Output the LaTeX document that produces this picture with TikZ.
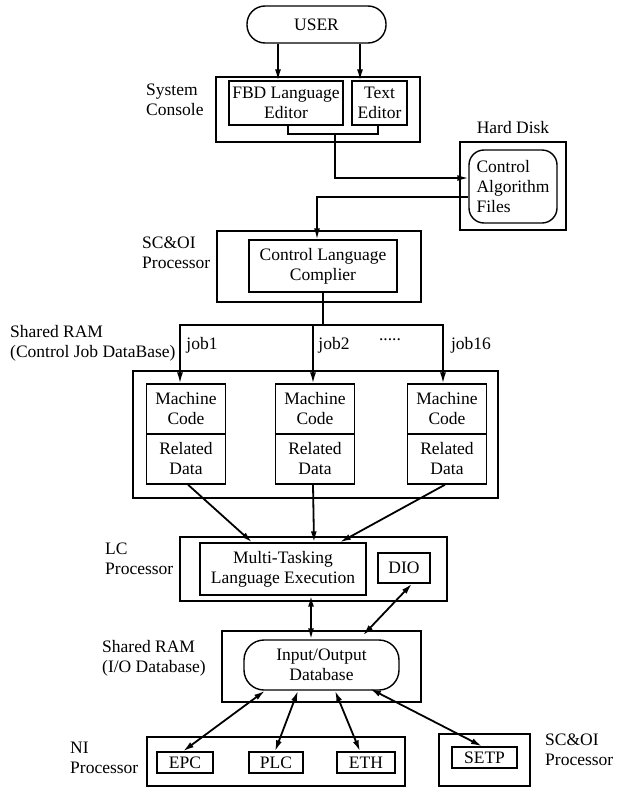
\documentclass[tikz,border=0pt]{standalone}
\usepackage{fontspec}
\setmainfont{Liberation Serif}
\usetikzlibrary{arrows.meta, positioning, calc}

\begin{document}
\begin{tikzpicture}[x=1pt, y=-1pt,
    every node/.style={font=\fontsize{17.5}{20}\selectfont},
    box/.style={draw, line width=1.4pt, inner sep=0pt, align=center},
    lbl/.style={anchor=west, align=left, inner sep=0pt},
    arr/.style={-{Latex[length=11pt,width=6pt]}, line width=1.5pt},
    darr/.style={{Latex[length=11pt,width=6pt]}-{Latex[length=11pt,width=6pt]}, line width=1.8pt}]
    \useasboundingbox (0,0) rectangle (624,790);

    % User and system console
    \node[box, rounded corners=18pt, minimum width=139pt, minimum height=37pt] (user) at (316.5,24.5) {USER};
    \node[box, minimum width=204pt, minimum height=65pt] (sysc) at (318,109.5) {};
    \node[box, minimum width=114pt, minimum height=44pt] (fbd) at (286,103) {FBD Language\\Editor};
    \node[box, minimum width=55pt, minimum height=44pt] (txt) at (379.5,103) {Text\\Editor};
    \node[lbl] (lsys) at (146,99.5) {System\\Console};

    % Hard disk
    \node[box, minimum width=106pt, minimum height=88pt] (hd) at (513,186) {};
    \node[box, align=left, rounded corners=15pt, minimum width=88pt, minimum height=73pt] (files) at (513,186.5) {Control\\Algorithm\\Files};
    \node (lhd) at (513,128) {Hard Disk};

    % SC&OI processor
    \node[box, minimum width=204pt, minimum height=71pt] (scoi) at (319,266.5) {};
    \node[box, minimum width=148pt, minimum height=52pt] (cmp) at (323,266) {Control Language\\Complier};
    \node[lbl] (lsc1) at (142,253) {SC\&OI\\Processor};

    % Shared RAM (job database)
    \node[box, minimum width=365pt, minimum height=127pt] (jobdb) at (315.5,434.5) {};
    \foreach \n/\x in {1/186, 2/315, 3/447} {
        \node[box, minimum width=79pt, minimum height=50pt] (mc\n) at (\x,409) {Machine\\Code};
        \node[box, minimum width=79pt, minimum height=50pt] (rd\n) at (\x,459) {Related\\Data};
    }
    \node[lbl] (lsr1) at (10,343) {Shared RAM\\(Control Job DataBase)};
    \node (lj1) at (202,345) {job1};
    \node (lj2) at (334,345) {job2};
    \node (ldots) at (390,340) {.....};
    \node (lj3) at (471,345) {job16};

    % LC processor
    \node[box, minimum width=267pt, minimum height=64pt] (lc) at (313.5,569) {};
    \node[box, minimum width=166pt, minimum height=52pt] (mt) at (283,569) {Multi-Tasking\\Language Execution};
    \node[box, minimum width=52pt, minimum height=30pt] (dio) at (404,568) {DIO};
    \node[lbl] (llc) at (105,559) {LC\\Processor};

    % Shared RAM (I/O database)
    \node[box, minimum width=199pt, minimum height=71pt] (io) at (321.5,666.5) {};
    \node[box, rounded corners=20pt, minimum width=155pt, minimum height=50pt] (iodb) at (321.5,665) {Input/Output\\Database};
    \node[lbl] (lsr2) at (102,658) {Shared RAM\\(I/O Database)};

    % NI and SC&OI processors
    \node[box, minimum width=258pt, minimum height=49pt] (ni) at (276,761.5) {};
    \node[box, minimum width=56pt, minimum height=21pt] (epc) at (185,762.5) {EPC};
    \node[box, minimum width=54pt, minimum height=21pt] (plc) at (276,762.5) {PLC};
    \node[box, minimum width=58pt, minimum height=21pt] (eth) at (366,762.5) {ETH};
    \node[box, minimum width=91pt, minimum height=52pt] (scoi2) at (484.5,760) {};
    \node[box, minimum width=65pt, minimum height=21pt] (setp) at (484.5,757.5) {SETP};
    \node[lbl] (lni) at (70,758) {NI\\Processor};
    \node[lbl] (lsc2) at (545,749.5) {SC\&OI\\Processor};

    % Connectors
    \draw[arr] ([xshift=-8pt]fbd.north |- user.south) -- ([xshift=-8pt]fbd.north);
    \draw[arr] ([xshift=-19.5pt]txt.north |- user.south) -- ([xshift=-19.5pt]txt.north);
    \coordinate (jn) at (335,134);
    \draw[line width=1.5pt] ([xshift=2pt]fbd.south) |- (jn) -| ([xshift=-1.5pt]txt.south);
    \draw[arr] (jn) |- ([yshift=8.5pt]files.west);
    \draw[arr] ([yshift=-10.5pt]files.west) -| ([xshift=-6pt]cmp.north);

    \coordinate (bus) at (323,325);
    \draw[line width=1.5pt] (cmp.south) -- (bus);
    \draw[arr] (bus) -| ([xshift=-6pt]mc1.north);
    \draw[arr] (bus) -| ([xshift=-4pt]mc3.north);
    \draw[arr] ([xshift=-2pt]mc2.north |- bus) -- ([xshift=-2pt]mc2.north);

    \draw[arr, line width=1.8pt] ([xshift=2pt]rd1.south) -- ([xshift=-31pt]mt.north);
    \draw[arr, line width=1.8pt] ([xshift=-2pt]rd2.south) -- ([xshift=31pt]mt.north);
    \draw[arr, line width=1.8pt] ([xshift=-2pt]rd3.south) -- ([xshift=57pt]mt.north);

    \draw[darr] ([xshift=28pt]mt.south) -- ([xshift=28pt]mt.south |- iodb.north);
    \draw[darr] ([xshift=8pt]dio.south) -- ([xshift=41.5pt,yshift=4pt]iodb.north);
    \draw[darr] ([xshift=-56.5pt]iodb.south) -- ([xshift=-2pt]epc.north);
    \draw[darr] ([xshift=-23.5pt]iodb.south) -- ([xshift=-1pt]plc.north);
    \draw[darr] ([xshift=13.5pt]iodb.south) -- ([xshift=-6pt]eth.north);
    \draw[darr] ([xshift=48.5pt,yshift=2pt]iodb.south) -- ([xshift=-2.5pt]setp.north);
\end{tikzpicture}
\end{document}
